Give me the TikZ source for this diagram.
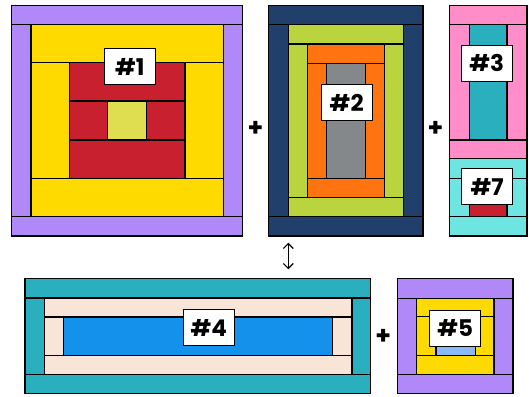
\documentclass[tikz,border=0pt]{standalone}
\usepackage{fontspec}
\setmainfont{Poppins}
\usetikzlibrary{arrows.meta}
\definecolor{cPurple}{RGB}{176,136,248}
\definecolor{cYellow}{RGB}{255,218,0}
\definecolor{cRed}{RGB}{200,32,46}
\definecolor{cYG}{RGB}{222,222,80}
\definecolor{cNavy}{RGB}{33,63,107}
\definecolor{cLime}{RGB}{186,212,62}
\definecolor{cOrange}{RGB}{255,116,16}
\definecolor{cGray}{RGB}{133,136,138}
\definecolor{cPink}{RGB}{255,142,200}
\definecolor{cTeal}{RGB}{42,175,190}
\definecolor{cCyan}{RGB}{110,229,224}
\definecolor{cCream}{RGB}{248,229,215}
\definecolor{cBlue}{RGB}{20,145,234}
\definecolor{cLBlue}{RGB}{138,184,248}
\newcommand\pcs[5]{\filldraw[piece,fill=#1] (#2) rectangle (#3);}
\begin{document}
\begin{tikzpicture}[x=1pt,y=-1pt,
  piece/.style={draw=black,line width=1.25pt,line join=miter},
  lab/.style={draw=black,fill=white,line width=1.1pt,minimum width=51pt,minimum height=36pt,inner sep=0pt,font=\fontsize{23}{23}\selectfont\bfseries},
  plus/.style={inner sep=0pt,font=\fontsize{25}{25}\selectfont\bfseries}]
\useasboundingbox (0,0) rectangle (529,396);
% block 1
\pcs{cPurple}{11.7,5.7}{242.3,24.3}{}{}
\pcs{cPurple}{11.7,216.7}{242.3,236}{}{}
\pcs{cPurple}{11.7,24.3}{31,216.7}{}{}
\pcs{cPurple}{223.3,24.3}{242.3,216.7}{}{}
\pcs{cYellow}{31,24.3}{223.3,62.7}{}{}
\pcs{cYellow}{31,178.3}{223.3,216.7}{}{}
\pcs{cYellow}{31,62.7}{69.3,178.3}{}{}
\pcs{cYellow}{185,62.7}{223.3,178.3}{}{}
\pcs{cRed}{69.3,62.7}{185,101}{}{}
\pcs{cRed}{69.3,140}{185,178.3}{}{}
\pcs{cRed}{69.3,101}{107.7,140}{}{}
\pcs{cRed}{146.7,101}{185,140}{}{}
\pcs{cYG}{107.7,101}{146.7,140}{}{}
% block 2
\pcs{cNavy}{268.7,5.7}{423,24.3}{}{}
\pcs{cNavy}{268.7,216.7}{423,236}{}{}
\pcs{cNavy}{268.7,24.3}{288.7,216.7}{}{}
\pcs{cNavy}{403.3,24.3}{423,216.7}{}{}
\pcs{cLime}{288.7,24.3}{403.3,44}{}{}
\pcs{cLime}{288.7,197.3}{403.3,216.7}{}{}
\pcs{cLime}{288.7,44}{307.3,197.3}{}{}
\pcs{cLime}{384.7,44}{403.3,197.3}{}{}
\pcs{cOrange}{307.3,44}{384.7,63.3}{}{}
\pcs{cOrange}{307.3,178.7}{384.7,197.3}{}{}
\pcs{cOrange}{307.3,63.3}{326.7,178.7}{}{}
\pcs{cOrange}{365.3,63.3}{384.7,178.7}{}{}
\pcs{cGray}{326.7,63.3}{365.3,178.7}{}{}
% block 3
\pcs{cPink}{449.3,5.7}{527,24.3}{}{}
\pcs{cPink}{449.3,140}{527,158.7}{}{}
\pcs{cPink}{449.3,24.3}{469.3,140}{}{}
\pcs{cPink}{507,24.3}{527,140}{}{}
\pcs{cTeal}{469.3,24.3}{507,140}{}{}
% block 7
\pcs{cCyan}{449.3,158.7}{527,178.3}{}{}
\pcs{cCyan}{449.3,216.7}{527,236}{}{}
\pcs{cCyan}{449.3,178.3}{469.3,216.7}{}{}
\pcs{cCyan}{507,178.3}{527,216.7}{}{}
\pcs{cRed}{469.3,178.3}{507,216.7}{}{}
% block 4
\pcs{cTeal}{25,278.3}{370.7,298}{}{}
\pcs{cTeal}{25,374.3}{370.7,393.3}{}{}
\pcs{cTeal}{25,298}{44.3,374.3}{}{}
\pcs{cTeal}{352,298}{370.7,374.3}{}{}
\pcs{cCream}{44.3,298}{352,317}{}{}
\pcs{cCream}{44.3,355.3}{352,374.3}{}{}
\pcs{cCream}{44.3,317}{63.3,355.3}{}{}
\pcs{cCream}{332.7,317}{352,355.3}{}{}
\pcs{cBlue}{63.3,317}{332.7,355.3}{}{}
% block 5
\pcs{cPurple}{397.7,278.3}{513,298.3}{}{}
\pcs{cPurple}{397.7,374.3}{513,393.3}{}{}
\pcs{cPurple}{397.7,298.3}{416.7,374.3}{}{}
\pcs{cPurple}{494,298.3}{513,374.3}{}{}
\pcs{cYellow}{416.7,298.3}{494,316.7}{}{}
\pcs{cYellow}{416.7,355.7}{494,374.3}{}{}
\pcs{cYellow}{416.7,316.7}{436,355.7}{}{}
\pcs{cYellow}{475.3,316.7}{494,355.7}{}{}
\pcs{cLBlue}{436,316.7}{475.3,355.7}{}{}
% labels
\node[lab] (l1) at (129.8,66.8) {\#1};
\node[lab] (l2) at (346.7,102.7) {\#2};
\node[lab] (l3) at (486.8,63.3) {\#3};
\node[lab] (l7) at (487.2,186.7) {\#7};
\node[lab] (l4) at (208.8,327.8) {\#4};
\node[lab] (l5) at (455.2,328.2) {\#5};
% plus signs
\node[plus] (p1) at (255.5,129) {+};
\node[plus] (p2) at (435.5,129) {+};
\node[plus] (p3) at (383.3,336.7) {+};
% arrow
\coordinate (at) at (288.3,242.7);
\coordinate (ab) at (288.3,269.3);
\draw[line width=1.2pt,{Straight Barb[length=5pt,width=10pt]}-{Straight Barb[length=5pt,width=10pt]}] (at) -- (ab);
\end{tikzpicture}
\end{document}
